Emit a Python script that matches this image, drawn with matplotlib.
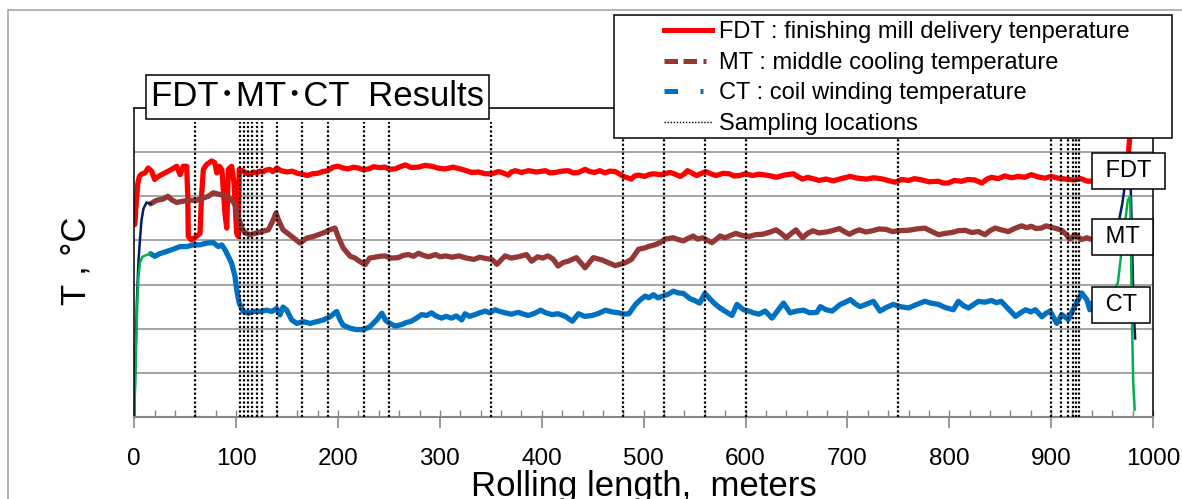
import numpy as np
import matplotlib.pyplot as plt
from matplotlib.lines import Line2D
from matplotlib.patches import Rectangle

plt.rcParams['font.family'] = ['Liberation Sans', 'Noto Sans CJK JP', 'DejaVu Sans']

# (rolling length m, temperature C)
fdt = [(0.5, 736), (2, 790), (3.5, 830), (5, 845), (7, 850), (10.5, 853), (13.7, 864), (17, 857),
       (20, 838), (23.6, 845), (30, 853), (36.7, 861), (41.6, 868), (45, 849), (48, 868), (51.4, 868),
       (52.5, 800), (53, 709), (56, 701), (61, 709), (64.5, 716), (66, 800), (67.8, 861), (71, 872),
       (76, 880), (79, 876), (81, 853), (83.5, 868), (86, 860), (89, 762), (90.7, 728), (92.3, 861),
       (95.6, 868), (97.9, 830), (100.5, 716), (102, 709), (103, 861), (107, 857), (110, 852),
       (113.6, 850), (117, 855), (120, 853), (123, 857), (126, 855), (129, 859), (133, 861),
       (136, 856), (140, 864), (144, 858), (150, 855), (155, 857), (160, 852), (165, 850), (170, 847),
       (175, 851), (180, 852), (185, 856), (190, 858), (195, 866), (200, 868), (205, 864), (210, 862),
       (215, 866), (220, 864), (225, 860), (230, 862), (235, 867), (240, 865), (246, 866), (251, 861),
       (256, 862), (261, 867), (266, 871), (272, 865), (279, 866), (285, 870), (292, 868), (298, 864),
       (305, 862), (313, 866), (321.5, 861), (326, 858), (331, 854), (338, 855), (344.5, 851),
       (351, 851), (357.5, 856), (362, 853), (367, 848), (370, 855), (374, 858), (380, 854),
       (387, 858), (395, 855), (403.5, 858), (408, 853), (413, 854), (420, 857), (426, 858),
       (431, 853), (436, 854), (442.5, 861), (447, 856), (452, 854), (457, 858), (462, 853),
       (467, 857), (472, 856), (476, 851), (480, 845), (484, 842), (488, 839), (491, 846), (495, 848),
       (501, 845), (505, 849), (509.5, 851), (517, 849), (526, 854), (531, 850), (536, 845),
       (540, 851), (543, 858), (548, 852), (552, 847), (556, 851), (561, 856), (566, 851), (571, 847),
       (578, 852), (584, 851), (589, 846), (594, 847), (600, 851), (607, 847), (613, 850), (620, 848),
       (625, 846), (630, 843), (638, 848), (647, 851), (651, 845), (656, 839), (661, 843), (666, 840),
       (672, 836), (679, 839), (686, 835), (694, 840), (702.6, 845), (710, 841), (719, 839),
       (726, 842), (735, 839), (741, 835), (747, 832), (753, 838), (760, 836), (766, 840), (773, 837),
       (780, 833), (789.5, 834), (794, 830), (799, 830), (805, 836), (812, 834), (818, 838),
       (825, 837), (829, 833), (832, 830), (837, 839), (841.5, 843), (848, 840), (854.5, 846),
       (861, 842), (867.6, 845), (874, 843), (880.7, 849), (887, 844), (893.8, 841), (900, 845),
       (906.9, 841), (914, 839), (923, 837), (929, 840), (936, 834), (950, 836), (965, 838),
       (972, 845), (975, 870), (977, 930), (979, 1010)]

mt = [(16, 783), (22, 791), (28.5, 794), (33, 800), (36.7, 792), (41.6, 786), (48, 789), (54.7, 791),
      (61, 791), (67.8, 796), (72.7, 800), (77.6, 808), (84, 804), (90.7, 800), (95.6, 792),
      (98.9, 781), (102, 754), (105.4, 728), (108.7, 717), (113.6, 713), (120, 717), (125, 720),
      (131.6, 724), (136.5, 747), (139, 762), (141.4, 747), (146, 724), (154.5, 709), (162.7, 694),
      (169, 705), (175.8, 709), (185.6, 717), (192, 724), (197, 728), (200, 709), (205, 683),
      (212, 664), (216.7, 660), (221.6, 652), (226.5, 645), (231, 660), (241, 664), (246, 665),
      (252, 660), (259, 661), (264, 666), (269, 668), (274, 664), (279, 671), (284, 666), (289, 663),
      (295.8, 668), (300, 663), (305.6, 665), (312, 662), (318.7, 665), (326, 660), (333.5, 657),
      (339, 662), (345, 659), (351, 657), (356, 646), (364, 665), (370, 660), (377, 663), (385, 668),
      (390, 653), (396, 663), (401, 660), (406, 665), (411, 658), (416, 642), (421, 650), (426, 653),
      (434, 661), (442.5, 638), (450.6, 661), (458.8, 656), (465, 650), (472, 643), (481.5, 649),
      (488, 657), (495, 680), (501, 683), (506, 687), (511, 690), (516, 695), (521, 703), (529, 706),
      (534, 702), (539, 699), (544, 705), (548.6, 710), (553, 703), (558, 706), (563, 700),
      (567, 695), (571, 702), (575, 710), (580, 706), (584, 710), (590.5, 716), (597, 711),
      (603.6, 709), (610, 713), (616.7, 714), (623, 718), (630, 724), (635, 716), (640, 706),
      (645, 716), (649.5, 724), (656, 706), (661, 716), (666, 722), (672, 717), (679, 719),
      (685, 722), (692, 727), (697, 720), (702, 714), (707, 720), (711.7, 724), (718, 719),
      (724.8, 722), (731, 726), (738, 725), (744, 720), (751, 722), (760, 723), (768, 726),
      (776, 728), (783, 720), (789.5, 713), (796, 716), (802.6, 718), (809, 722), (815.6, 723),
      (822, 718), (828.7, 720), (835, 713), (840, 722), (845, 728), (851, 724), (858, 720),
      (864, 727), (871, 733), (876, 729), (880.7, 732), (885, 727), (890.5, 728), (895, 733),
      (900, 730), (905, 727), (910.4, 723), (914, 715), (918.6, 703), (923.5, 713), (930, 702),
      (935, 706), (940, 702), (955, 700)]

ct = [(16, 670), (20, 664), (25, 670), (31.7, 675), (38, 680), (44.8, 686), (51.4, 686), (58, 690),
      (64.5, 690), (71, 694), (77.6, 695), (82.5, 686), (85.8, 690), (89, 679), (92.3, 664),
      (95.6, 648), (98.9, 618), (100.5, 588), (103, 558), (107, 539), (112, 535), (117, 539),
      (123.4, 539), (130, 542), (135, 539), (139.8, 546), (143, 531), (146, 549), (149.6, 542),
      (154.5, 520), (159.4, 512), (166, 516), (172.5, 512), (179, 516), (185.6, 520), (192, 527),
      (198.7, 539), (202, 520), (205, 508), (212, 501), (218, 498), (225, 498), (231, 504),
      (238, 520), (243, 535), (247, 518), (251, 512), (256, 506), (262, 509), (267, 514), (272, 517),
      (277, 524), (282, 532), (287, 530), (291.8, 536), (296, 529), (301.6, 524), (306, 528),
      (311.5, 524), (316, 529), (321.5, 520), (324.6, 534), (329, 528), (334.5, 532), (339, 536),
      (344.5, 540), (349, 536), (354, 543), (359, 539), (364, 536), (370, 533), (377, 537),
      (382, 533), (387, 530), (393, 535), (398.8, 542), (404, 536), (410, 532), (416, 534),
      (423, 528), (430, 517), (436, 534), (442, 528), (449.6, 530), (456, 535), (462.6, 542),
      (469, 538), (475.7, 536), (480, 533), (485.6, 534), (492, 555), (497, 566), (501.5, 574),
      (505, 570), (509.5, 577), (514, 570), (519, 574), (524, 578), (529, 585), (534, 581),
      (539, 580), (545.5, 568), (550, 564), (555, 558), (560, 580), (565, 568), (570, 556),
      (575, 547), (581, 538), (586.7, 530), (591.6, 555), (598, 543), (603, 540), (607.8, 536),
      (613, 533), (619.3, 540), (626, 524), (632, 542), (637.3, 558), (643.8, 536), (650, 540),
      (657, 542), (663, 536), (670, 537), (673.5, 550), (679, 543), (685, 540), (693, 555),
      (698, 560), (703, 566), (708, 556), (712.6, 550), (719, 556), (725.6, 562), (732, 540),
      (738, 548), (745, 555), (752, 550), (760, 547), (768, 555), (776, 562), (782, 558),
      (789.5, 555), (796, 548), (804, 543), (809, 562), (814, 552), (819, 547), (824, 555),
      (828.7, 562), (835, 560), (841.5, 564), (846, 559), (851, 562), (858, 545), (865, 528),
      (870, 536), (875, 543), (880, 538), (884.5, 543), (891, 527), (895, 535), (899, 540),
      (905.6, 512), (910.4, 532), (917, 521), (920, 536), (926.7, 566), (930, 581), (935, 566),
      (938, 543), (940, 558), (955, 560)]

# head / tail of the coil
mt_ends = [[(0, 300), (1, 420), (2.5, 560), (4, 650), (5.5, 700), (7, 745), (9, 772), (12, 786),
            (16, 783)],
           [(955, 700), (965, 725), (970, 785), (975, 870), (977, 900), (978.5, 790), (980, 640),
            (981, 540), (982.5, 478)]]
ct_ends = [[(0, 300), (1.5, 440), (3, 560), (4, 615), (5.5, 650), (8, 663), (12, 667), (16, 670)],
           [(955, 560), (965.5, 604), (970.5, 702), (975.3, 792), (977.6, 800), (978.6, 641),
            (979.6, 490), (980.6, 377), (982, 317)]]

sampling = [60, 104, 108, 112, 116, 120, 125, 140, 165, 190, 225, 250, 350, 480, 520, 560, 600,
            750, 900, 910, 917, 921, 924, 927]

labels = ['FDT : finishing mill delivery tenperature', 'MT : middle cooling temperature',
          'CT : coil winding temperature', 'Sampling locations']

W, H = 1182, 499
fig = plt.figure(figsize=(W / 100, H / 100), dpi=100)
ax = fig.add_axes([134.3 / W, 1 - 417 / H, (1153 - 134.3) / W, (417 - 108) / H])

red, brown, blue = '#ff0000', '#953735', '#0070c0'
navy, green = '#002060', '#00b050'

for data, col in [(fdt, red), (mt, brown), (ct, blue)]:
    x, y = np.array(data).T
    ax.plot(x, y, color=col, lw=3.8, solid_joinstyle='round', solid_capstyle='round')
for seg in mt_ends:
    x, y = np.array(seg).T
    ax.plot(x, y, color=navy, lw=1.8)
for seg in ct_ends:
    x, y = np.array(seg).T
    ax.plot(x, y, color=green, lw=1.8)

ax.vlines(sampling, 300, 968, colors='black', lw=1.6, linestyles=(0, (1, 1)), zorder=5)

ax.set_xlim(0, 1000)
ax.set_ylim(300, 1000)
ax.set_xticks(range(0, 1001, 100))
ax.set_xticks(range(0, 1001, 20), minor=True)
ax.xaxis.remove_overlapping_locs = False
ax.set_yticks(range(300, 1001, 100))
ax.tick_params(axis='x', which='major', direction='out', length=8, width=1.2,
               color='#868686', pad=14.5, labelsize=17.5)
ax.tick_params(axis='x', which='minor', direction='in', length=4.7, width=1, color='#868686')
ax.tick_params(axis='y', length=0, labelleft=False)
ax.grid(axis='y', color='#8c8c8c', lw=1.1)
ax.set_axisbelow(True)
for side in ['left', 'top', 'right']:
    ax.spines[side].set_color('black')
    ax.spines[side].set_linewidth(1.1)
ax.spines['bottom'].set_color('#868686')
ax.spines['bottom'].set_linewidth(1.5)

for name, yy in [('FDT', 858), ('MT', 708), ('CT', 553)]:
    ax.text(947, yy, ' ' + name + ' ', fontsize=17, ha='left', va='center', clip_on=False,
            zorder=10, bbox=dict(boxstyle='square,pad=0.3', fc='white', ec='black', lw=1.1))

fig.text(317.5 / W, 1 - 97 / H, 'FDT･MT･CT  Results', fontsize=25, ha='center', va='center',
         bbox=dict(boxstyle='square,pad=0.15', fc='white', ec='black', lw=1.1))

fig.text(76 / W, 1 - 261 / H, 'T , °C', fontsize=25, rotation=90, ha='center', va='center')
fig.text(643.5 / W, 1 - 496 / H, 'Rolling length,  meters', fontsize=25, ha='center',
         va='baseline')

# outer chart frame and legend box
fig.add_artist(Rectangle((8 / W, -0.1), 1.2, 1 - 10 / H + 0.1, transform=fig.transFigure,
                         fill=False, ec='#a6a6a6', lw=1.2, zorder=-1))
fig.add_artist(Rectangle((614 / W, 1 - 138 / H), (1172 - 614) / W, 123 / H,
                         transform=fig.transFigure, fc='white', ec='black', lw=1.1, zorder=4))

handles = [Line2D([], [], color=red, lw=3.6),
           Line2D([], [], color=brown, lw=3.6, linestyle=(0, (2.7, 1.1, 2.7, 1.3, 0.6, 1.3))),
           Line2D([], [], color=blue, lw=3.6, linestyle=(0, (2.7, 4.5, 0.6, 10))),
           Line2D([], [], color='black', lw=1.0, linestyle=(0, (1, 1.2)))]
fig.legend(handles, labels, loc='upper left', bbox_to_anchor=(662 / W, 1 - 19 / H),
           frameon=False, fontsize=17, handlelength=2.0, handletextpad=0.3,
           labelspacing=0.36, borderpad=0.1, borderaxespad=0)

fig.savefig('out.png', dpi=100)
